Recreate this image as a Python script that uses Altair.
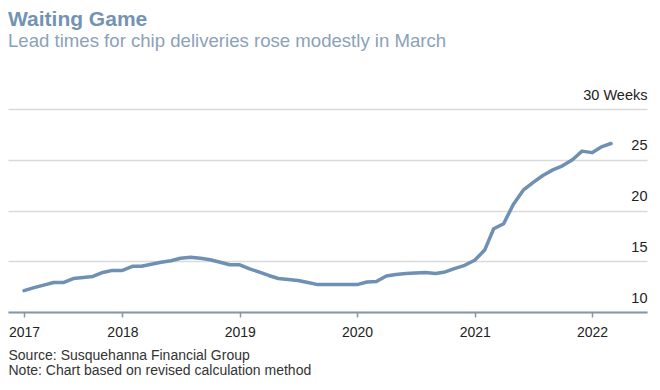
import altair as alt
import pandas as pd

# Monthly lead times (weeks), Mar 2017 - Mar 2022
months = pd.date_range("2017-03-01", "2022-03-01", freq="MS").strftime("%Y-%m-%d").tolist()
weeks = [
    12.1, 12.4, 12.65, 12.9, 12.9, 13.3, 13.4, 13.5, 13.9, 14.1,   # Mar-Dec 2017
    14.1, 14.5, 14.5, 14.7, 14.9, 15.05, 15.3, 15.4, 15.3, 15.15, 14.9, 14.65,  # 2018
    14.65, 14.25, 13.95, 13.6, 13.3, 13.2, 13.1, 12.9, 12.7, 12.7, 12.7, 12.7,  # 2019
    12.7, 12.95, 13.0, 13.55, 13.7, 13.8, 13.85, 13.9, 13.8, 13.95, 14.3, 14.6,  # 2020
    15.1, 16.1, 18.2, 18.7, 20.6, 22.0, 22.75, 23.45, 24.0, 24.4, 25.0, 25.85,  # 2021
    25.7, 26.3, 26.6,  # 2022
]
y_ticks = [10, 15, 20, 25, 30]
x_tick_years = [2017, 2018, 2019, 2020, 2021, 2022]

df = pd.DataFrame({"date": months, "weeks": weeks})

x_values = [alt.DateTime(year=2017, month=3, date=1, utc=True)] + [
    alt.DateTime(year=y, month=1, date=1, utc=True) for y in x_tick_years[1:]
]

FONT = "Liberation Sans"

chart = (
    alt.Chart(df)
    .mark_line(color="#6d90b3", strokeWidth=3.5, strokeJoin="round", strokeCap="round")
    .encode(
        x=alt.X(
            "date:T",
            scale=alt.Scale(
                type="utc",
                domain=[
                    alt.DateTime(year=2017, month=1, date=10, utc=True),
                    alt.DateTime(year=2022, month=6, date=21, utc=True),
                ],
            ),
            axis=alt.Axis(
                values=x_values,
                labelExpr="utcFormat(datum.value, '%Y')",
                labelFlush=False,
                labelOverlap=False,
                grid=False,
                domainColor="#8397ab",
                domainWidth=2,
                tickColor="#8397ab",
                tickWidth=1.5,
                tickSize=5,
                labelFontSize=14,
                labelColor="#222222",
                labelPadding=8,
                title=["Source: Susquehanna Financial Group",
                       "Note: Chart based on revised calculation method"],
                titleAnchor="start",
                titleAlign="left",
                titleBaseline="alphabetic",
                titleX=0,
                titleY=47.5,
                titleFontSize=14,
                titleFontWeight="normal",
                titleColor="#333333",
                titleLineHeight=15,
            ),
        ),
        y=alt.Y(
            "weeks:Q",
            scale=alt.Scale(domain=[10, 30], nice=False, zero=False),
            axis=alt.Axis(
                orient="right",
                values=y_ticks,
                labelExpr="datum.value == 30 ? '30 Weeks' : datum.label",
                grid=True,
                gridColor="#d9d9d9",
                gridWidth=1.5,
                domain=False,
                ticks=False,
                labelAlign="right",
                labelBaseline="alphabetic",
                labelOffset=-10,
                labelPadding=0,
                labelFontSize=14.5,
                labelColor="#222222",
                title=None,
            ),
        ),
    )
    .properties(
        width=639,
        height=203,
        padding={"left": 0, "top": 101, "right": 5, "bottom": 66},
        autosize=alt.AutoSizeParams(type="none"),
        title=alt.TitleParams(
            text="Waiting Game",
            subtitle="Lead times for chip deliveries rose modestly in March",
            anchor="start",
            frame="group",
            font=FONT,
            fontSize=21,
            fontWeight="bold",
            color="#7393b3",
            subtitleFont=FONT,
            subtitleFontSize=18.6,
            subtitleColor="#8ba2b8",
            subtitlePadding=2,
            dx=0,
            offset=36,
        ),
    )
    .configure(font=FONT)
    .configure_view(strokeWidth=0)
)

chart.save("out.html", embed_options={"renderer": "svg", "actions": False})
